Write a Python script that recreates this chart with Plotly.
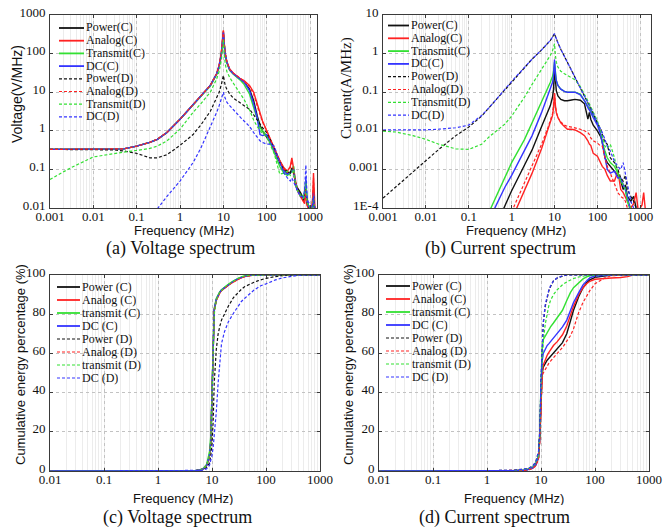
import plotly.graph_objects as go

# ---------------------------------------------------------------------------
# (a) Voltage spectrum, V/MHz
# ---------------------------------------------------------------------------
freq_a = [0.001, 0.003, 0.01, 0.03, 0.05, 0.1, 0.2, 0.3, 0.5, 1,
          2, 3, 5, 7, 8, 9, 9.5, 10, 10.5, 11,
          12, 14, 17, 20, 25, 30, 40, 50, 60, 70,
          80, 100, 120, 150, 200, 250, 300, 350, 380, 420,
          450, 500, 600, 700, 750, 800, 850, 900, 1000, 1100,
          1150, 1200, 1250, 1300]

volt_power_c = [0.33, 0.33, 0.33, 0.335, 0.34, 0.40, 0.50, 0.60, 0.90, 2.0,
                4.8, 7.5, 15, 30, 48, 100, 180, 370, 170, 100,
                60, 38, 30, 26, 21, 18.5, 12, 6, 2.5, 1.4,
                1.0, 0.7, 0.5, 0.32, 0.17, 0.1, 0.08, 0.085, 0.1, 0.09,
                0.05, 0.035, 0.025, 0.018, 0.02, 0.04, 0.015, 0.012, 0.009, 0.008,
                0.015, 0.03, 0.012, 0.008]
volt_analog_c = [0.33, 0.33, 0.33, 0.335, 0.34, 0.40, 0.50, 0.60, 0.90, 2.0,
                 4.8, 7.5, 15, 30, 50, 110, 200, 400, 180, 105,
                 62, 40, 31, 27, 22, 20, 15, 10, 5, 3,
                 1.8, 1.0, 0.6, 0.35, 0.17, 0.11, 0.09, 0.12, 0.2, 0.1,
                 0.06, 0.03, 0.02, 0.015, 0.013, 0.03, 0.012, 0.01, 0.009, 0.01,
                 0.02, 0.08, 0.015, 0.009]
volt_transmit_c = [0.33, 0.33, 0.33, 0.335, 0.34, 0.40, 0.50, 0.60, 0.90, 2.0,
                   4.7, 7.3, 14.5, 29, 46, 95, 170, 300, 160, 95,
                   58, 37, 29, 25, 20, 16, 9, 4, 2.0, 1.2,
                   1.0, 0.75, 0.5, 0.28, 0.12, 0.08, 0.07, 0.08, 0.09, 0.12,
                   0.05, 0.03, 0.022, 0.02, 0.025, 0.05, 0.015, 0.012, 0.01, 0.009,
                   0.012, 0.02, 0.01, 0.008]
volt_dc_c = [0.33, 0.33, 0.33, 0.335, 0.34, 0.40, 0.50, 0.60, 0.90, 2.0,
             4.8, 7.5, 15, 30, 48, 100, 175, 350, 165, 98,
             60, 38, 30, 26, 21, 18.5, 11, 5, 2.2, 0.8,
             0.75, 0.8, 0.55, 0.3, 0.15, 0.09, 0.075, 0.08, 0.09, 0.1,
             0.05, 0.03, 0.02, 0.018, 0.02, 0.06, 0.015, 0.011, 0.008, 0.009,
             0.012, 0.025, 0.01, 0.008]
volt_power_d = [0.33, 0.33, 0.33, 0.32, 0.30, 0.26, 0.20, 0.20, 0.24, 0.42,
                0.8, 1.4, 3.2, 7, 10, 16, 20, 27, 20, 15,
                12, 9, 7, 6.2, 5.3, 4.6, 3.6, 2.6, 2.0, 1.5,
                1.2, 0.9, 0.6, 0.35, 0.15, 0.1, 0.09, 0.08, 0.11, 0.08,
                0.05, 0.03, 0.022, 0.016, 0.018, 0.035, 0.013, 0.011, 0.009, 0.008,
                0.01, 0.02, 0.01, 0.008]
volt_analog_d = [0.33, 0.33, 0.33, 0.335, 0.34, 0.40, 0.50, 0.61, 0.91, 2.0,
                 4.8, 7.6, 15, 30, 50, 108, 195, 390, 175, 102,
                 61, 39, 31, 27, 22, 19.5, 14, 9, 4.5, 2.8,
                 1.7, 1.0, 0.6, 0.33, 0.16, 0.1, 0.085, 0.11, 0.17, 0.09,
                 0.05, 0.03, 0.02, 0.015, 0.014, 0.03, 0.012, 0.01, 0.009, 0.01,
                 0.018, 0.06, 0.012, 0.009]
volt_transmit_d = [0.055, 0.11, 0.21, 0.26, 0.28, 0.31, 0.35, 0.40, 0.55, 1.1,
                   3.0, 5, 10, 22, 35, 70, 120, 230, 100, 55,
                   35, 24, 17, 13, 9, 6.5, 3.5, 1.9, 1.3, 1.0,
                   0.85, 0.7, 0.45, 0.25, 0.075, 0.08, 0.09, 0.07, 0.08, 0.1,
                   0.05, 0.03, 0.02, 0.018, 0.02, 0.05, 0.015, 0.012, 0.01, 0.009,
                   0.012, 0.02, 0.01, 0.008]
volt_dc_d = [None, None, None, None, None, None, None, 0.0095, 0.02, 0.05,
             0.15, 0.35, 1.2, 3, 4.5, 6.5, 8, 10, 8, 6.8,
             5.5, 4.5, 3.5, 2.8, 2.2, 1.8, 1.3, 0.9, 0.7, 0.55,
             0.5, 0.45, 0.45, 0.4, 0.15, 0.08, 0.06, 0.05, 0.06, 0.045,
             0.04, 0.03, 0.02, 0.02, 0.03, 0.13, 0.02, 0.015, 0.012, 0.01,
             0.012, 0.02, 0.01, 0.008]

# ---------------------------------------------------------------------------
# (b) Current spectrum, A/MHz
# ---------------------------------------------------------------------------
freq_b = [0.001, 0.002, 0.005, 0.01, 0.02, 0.05, 0.1, 0.2, 0.3, 0.5,
          0.7, 1, 2, 3, 5, 7, 8, 9, 9.5, 10,
          10.5, 11, 12, 14, 17, 20, 25, 30, 40, 50,
          60, 65, 70, 80, 100, 120, 130, 150, 170, 200,
          250, 300, 350, 400, 450, 500, 600, 700, 800, 900,
          1000, 1100, 1200, 1300]

curr_power_c = [None, None, None, None, None, None, None, None, None, 5e-5,
                1.2e-4, 2.8e-4, 1.3e-3, 3.2e-3, 0.013, 0.03, 0.045, 0.075, 0.12, 0.42,
                0.18, 0.11, 0.08, 0.065, 0.06, 0.06, 0.063, 0.065, 0.062, 0.05,
                0.02, 0.03, 0.02, 0.014, 0.01, 0.007, 0.005, 0.002, 0.0015, 0.0012,
                0.0009, 0.0007, 0.0005, 0.0003, 0.0004, 0.0002, 0.00015, 0.0002, 0.0001, 0.00008,
                0.00006, 0.00005, 0.00005, 0.00005]
curr_analog_c = [None, None, None, None, None, None, None, None, None, None,
                 None, 5e-5, 3e-4, 8e-4, 3.5e-3, 0.011, 0.016, 0.025, 0.04, 0.095,
                 0.045, 0.03, 0.022, 0.016, 0.013, 0.011, 0.011, 0.0105, 0.009, 0.0075,
                 0.0055, 0.0045, 0.0042, 0.0026, 0.0022, 0.0014, 0.0012, 0.001, 0.0007, 0.0005,
                 0.0005, 0.0009, 0.0003, 0.00025, 0.0002, 0.00015, 0.0001, 0.00013, 0.00025, 0.00008,
                 0.0001, 0.00012, 0.00025, 0.0001]
curr_transmit_c = [None, None, None, None, None, None, None, None, 8e-5, 2.8e-4,
                   6e-4, 1.5e-3, 6e-3, 0.016, 0.055, 0.13, 0.18, 0.26, 0.35, 0.6,
                   0.3, 0.2, 0.15, 0.12, 0.105, 0.1, 0.1, 0.1, 0.09, 0.06,
                   0.045, 0.04, 0.033, 0.025, 0.016, 0.008, 0.005, 0.003, 0.002, 0.0015,
                   0.0012, 0.0008, 0.0005, 0.0004, 0.0003, 0.00015, 0.00008, 0.00006, 0.00006, 0.00005,
                   0.00005, 0.00005, 0.00005, 0.00005]
curr_dc_c = [None, None, None, None, None, None, None, None, 5e-5, 1.6e-4,
             3.5e-4, 7e-4, 3e-3, 7.5e-3, 0.03, 0.08, 0.12, 0.18, 0.27, 0.7,
             0.3, 0.2, 0.15, 0.12, 0.105, 0.1, 0.1, 0.1, 0.085, 0.06,
             0.04, 0.035, 0.03, 0.022, 0.014, 0.008, 0.005, 0.002, 0.001, 0.0008,
             0.0009, 0.0006, 0.0006, 0.0004, 0.0003, 0.0002, 0.00008, 0.00006, 0.00006, 0.00005,
             0.00005, 0.00005, 0.00005, 0.00005]
curr_power_d = [1.8e-4, 3.5e-4, 8.5e-4, 1.7e-3, 3.3e-3, 7.5e-3, 0.0125, 0.024, 0.04, 0.075,
                0.12, 0.19, 0.45, 0.72, 1.25, 1.8, 2.2, 2.7, 3.0, 3.3,
                2.8, 2.4, 1.9, 1.3, 0.85, 0.6, 0.38, 0.25, 0.14, 0.085,
                0.055, 0.045, 0.038, 0.028, 0.016, 0.011, 0.008, 0.005, 0.0045, 0.002,
                0.0015, 0.001, 0.0006, 0.0005, 0.0007, 0.0003, 0.0002, 0.00015, 0.0001, 0.00008,
                0.00006, 0.00005, 0.00005, 0.00005]
curr_analog_d = [None, None, None, None, None, None, None, None, None, None,
                 None, 8e-5, 4.5e-4, 1.2e-3, 4.5e-3, 0.012, 0.018, 0.028, 0.045, 0.09,
                 0.045, 0.03, 0.022, 0.017, 0.014, 0.013, 0.0125, 0.012, 0.011, 0.01,
                 0.009, 0.008, 0.0065, 0.0055, 0.0048, 0.004, 0.004, 0.002, 0.0012, 0.0008,
                 0.0004, 0.00025, 0.0002, 0.00018, 0.00015, 0.0001, 0.00008, 0.00007, 0.00006, 0.00005,
                 0.00005, 0.00005, 0.00005, 0.00005]
curr_transmit_d = [0.0098, 0.0093, 0.0075, 0.006, 0.0045, 0.0034, 0.0033, 0.0045, 0.007, 0.011,
                   0.015, 0.024, 0.075, 0.16, 0.4, 0.7, 0.9, 1.2, 1.45, 1.8,
                   0.9, 0.6, 0.45, 0.35, 0.3, 0.27, 0.24, 0.21, 0.14, 0.09,
                   0.06, 0.05, 0.042, 0.03, 0.018, 0.01, 0.007, 0.004, 0.0035, 0.0045,
                   0.002, 0.0008, 0.0005, 0.0004, 0.0003, 0.00015, 0.0001, 0.00008, 0.00006, 0.00005,
                   0.00005, 0.00005, 0.00005, 0.00005]
curr_dc_d = [0.0105, 0.0105, 0.0105, 0.0106, 0.011, 0.012, 0.014, 0.025, 0.04, 0.075,
             0.12, 0.19, 0.45, 0.72, 1.25, 1.8, 2.2, 2.7, 3.0, 3.3,
             2.8, 2.4, 1.9, 1.3, 0.85, 0.6, 0.38, 0.25, 0.14, 0.085,
             0.055, 0.045, 0.038, 0.028, 0.016, 0.011, 0.009, 0.006, 0.004, 0.003,
             0.0016, 0.0012, 0.001, 0.0015, 0.0008, 0.0004, 0.00015, 0.0001, 0.00007, 0.00006,
             0.00005, 0.00005, 0.00005, 0.00005]

# ---------------------------------------------------------------------------
# (c)/(d) Cumulative energy percentage, %
# ---------------------------------------------------------------------------
freq_cum = [0.01, 1, 3, 5, 6, 7, 8, 9, 9.5, 10,
            10.5, 11, 12, 13, 14, 15, 17, 20, 25, 30,
            35, 40, 50, 60, 70, 80, 100, 150, 200, 300,
            400, 500, 700, 1000]

cum_v_power_c = [0, 0, 0.05, 0.2, 0.5, 1.2, 3, 8, 15, 40,
                 70, 82, 87.5, 90, 91.3, 92.3, 93.5, 95, 96.8, 98,
                 98.8, 99.3, 99.8, 100, 100, 100, 100, 100, 100, 100,
                 100, 100, 100, 100]
cum_v_analog_c = [0, 0, 0.05, 0.2, 0.5, 1.2, 3, 8, 15, 40,
                  70, 82, 87, 89.5, 91, 92, 93.3, 94.8, 96.5, 97.8,
                  98.6, 99.2, 99.7, 100, 100, 100, 100, 100, 100, 100,
                  100, 100, 100, 100]
cum_v_transmit_c = [0, 0, 0.05, 0.25, 0.6, 1.5, 3.5, 10, 18, 45,
                    72, 83, 88, 90.3, 91.5, 92.5, 93.8, 95.3, 97, 98.2,
                    99, 99.5, 99.9, 100, 100, 100, 100, 100, 100, 100,
                    100, 100, 100, 100]
cum_v_dc_c = [0, 0, 0.05, 0.2, 0.5, 1.2, 3, 8, 15, 41,
              71, 82.5, 87.5, 90, 91.3, 92.3, 93.5, 95, 96.8, 98,
              98.8, 99.3, 99.8, 100, 100, 100, 100, 100, 100, 100,
              100, 100, 100, 100]
cum_v_power_d = [0, 0, 0.05, 0.2, 0.4, 0.8, 2, 4, 8, 14,
                 25, 45, 62, 70, 74, 77, 80, 84, 88.5, 91,
                 92.7, 94, 95.5, 96.3, 97, 97.5, 98.3, 99.2, 99.7, 100,
                 100, 100, 100, 100]
cum_v_analog_d = [0, 0, 0.05, 0.2, 0.5, 1.2, 3, 8, 15, 40,
                  70, 82, 87, 89.5, 91, 92, 93.3, 94.8, 96.5, 97.8,
                  98.6, 99.2, 99.7, 100, 100, 100, 100, 100, 100, 100,
                  100, 100, 100, 100]
cum_v_transmit_d = [0, 0, 0.05, 0.2, 0.5, 1.2, 3, 8, 14, 35,
                    65, 80, 87, 89.8, 91.2, 92.3, 93.7, 95.2, 97, 98.2,
                    99, 99.5, 99.9, 100, 100, 100, 100, 100, 100, 100,
                    100, 100, 100, 100]
cum_v_dc_d = [0, 0, 0.03, 0.15, 0.3, 0.5, 1.2, 3, 5, 8,
              12, 18, 30, 45, 58, 65, 71, 76, 80.5, 84,
              86.5, 88, 90.5, 92.3, 93.5, 94.5, 95.5, 97.5, 98.5, 99.5,
              99.9, 100, 100, 100]

cum_i_power_c = [0, 0, 0.1, 0.4, 0.8, 1.5, 3, 7, 17, 40,
                 50, 53, 55, 56.5, 57.5, 58.5, 60.5, 62.5, 65.5, 70,
                 76, 82, 89, 93.5, 96, 97.5, 98.8, 99.7, 100, 100,
                 100, 100, 100, 100]
cum_i_analog_c = [0, 0, 0.1, 0.4, 0.8, 1.5, 3, 7, 17, 40,
                  50, 54, 57, 59, 60.5, 62, 64, 66, 69.5, 74,
                  79, 84, 90, 93.5, 95.5, 96.8, 97.8, 98.3, 98.5, 98.7,
                  99.2, 100, 100, 100]
cum_i_transmit_c = [0, 0, 0.1, 0.5, 1, 2, 4, 8, 20, 45,
                    62, 67, 69, 70.5, 72, 73.5, 75.5, 78, 82, 87,
                    91, 93.5, 96, 98, 99, 99.6, 100, 100, 100, 100,
                    100, 100, 100, 100]
cum_i_dc_c = [0, 0, 0.1, 0.4, 0.8, 1.6, 3.2, 7, 18, 42,
              56, 60, 62.5, 64, 65, 66, 68, 70, 73.5, 77,
              82, 86, 91, 95, 97, 98.5, 99.5, 100, 100, 100,
              100, 100, 100, 100]
cum_i_power_d = [0, 0, 0.3, 1, 1.5, 2.5, 4.5, 10, 20, 45,
                 65, 75, 84, 89, 92, 94, 97, 98.5, 99.5, 100,
                 100, 100, 100, 100, 100, 100, 100, 100, 100, 100,
                 100, 100, 100, 100]
cum_i_analog_d = [0, 0, 0.1, 0.3, 0.7, 1.3, 2.8, 6, 15, 38,
                  47, 50, 52, 53.5, 55, 56, 58, 60, 63, 66,
                  69, 72.5, 81, 86, 89.5, 92, 95.5, 98.5, 99.6, 100,
                  100, 100, 100, 100]
cum_i_transmit_d = [0, 0, 0.2, 0.8, 1.3, 2.2, 4, 8, 18, 40,
                    58, 66, 75, 81, 84.5, 87, 90, 92.5, 95, 96.5,
                    97.5, 98.2, 99, 99.5, 99.8, 100, 100, 100, 100, 100,
                    100, 100, 100, 100]
cum_i_dc_d = [0, 0, 0.3, 1, 1.5, 2.5, 4.5, 10, 21, 46,
              66, 76, 85, 89.5, 92.5, 94.5, 97, 98.6, 99.6, 100,
              100, 100, 100, 100, 100, 100, 100, 100, 100, 100,
              100, 100, 100, 100]

# ---------------------------------------------------------------------------
# Styling
# ---------------------------------------------------------------------------
W, H = 672, 527
BLACK, RED, GREEN, BLUE = "#111111", "#ff2222", "#33e033", "#3434ff"
SERIES_COLORS = [BLACK, RED, GREEN, BLUE, BLACK, RED, GREEN, BLUE]
SERIES_DASHED = [False, False, False, False, True, True, True, True]
DASH = "3px,2px"

SERIF = "Liberation Serif, Times New Roman, serif"
SANS = "Liberation Sans, Arial, sans-serif"
AX_LINE = "#3a3a3a"
MAJOR_GRID = "#c2c2c2"
MINOR_GRID = "#ececec"
TICK_FONT = dict(family=SERIF, size=13, color="#111111")


def px(x):
    return x / W


def py(y):
    return 1 - y / H


def axis_common():
    return dict(showline=True, mirror="ticks", linecolor=AX_LINE, linewidth=1,
                ticks="inside", ticklen=3, tickcolor=AX_LINE, automargin=False,
                showgrid=True, gridcolor=MAJOR_GRID, griddash="dot", gridwidth=1,
                zeroline=False, tickfont=TICK_FONT, fixedrange=True)


def log_x_axis(domain, rng, vals, text, anchor):
    ax = axis_common()
    ax.update(type="log", domain=domain, range=rng, anchor=anchor,
              tickmode="array", tickvals=vals, ticktext=text,
              ticklabelstandoff=-4,
              minor=dict(dtick="D1", showgrid=True, gridcolor=MINOR_GRID,
                         griddash="solid", gridwidth=1, ticks=""))
    return ax


def log_y_axis(domain, rng, vals, text, anchor):
    ax = axis_common()
    ax.update(type="log", domain=domain, range=rng, anchor=anchor,
              tickmode="array", tickvals=vals, ticktext=text,
              ticklabelshift=-3, ticklabelstandoff=1)
    return ax


def lin_axis(domain, rng, dtick, anchor):
    ax = axis_common()
    ax.update(type="linear", domain=domain, range=rng, anchor=anchor,
              tickmode="linear", tick0=0, dtick=dtick,
              ticklabelshift=-3, ticklabelstandoff=1)
    return ax


fig = go.Figure()


def add_group(xs, ys_list, xa, ya):
    for ys, color, dashed in zip(ys_list, SERIES_COLORS, SERIES_DASHED):
        fig.add_trace(go.Scatter(
            x=xs, y=ys, mode="lines", xaxis=xa, yaxis=ya, showlegend=False,
            connectgaps=False, hoverinfo="skip",
            line=dict(color=color, width=1.2 if dashed else 1.4,
                      dash=DASH if dashed else "solid")))


add_group(freq_a, [volt_power_c, volt_analog_c, volt_transmit_c, volt_dc_c,
                   volt_power_d, volt_analog_d, volt_transmit_d, volt_dc_d], "x", "y")
add_group(freq_b, [curr_power_c, curr_analog_c, curr_transmit_c, curr_dc_c,
                   curr_power_d, curr_analog_d, curr_transmit_d, curr_dc_d], "x2", "y2")
add_group(freq_cum, [cum_v_power_c, cum_v_analog_c, cum_v_transmit_c, cum_v_dc_c,
                     cum_v_power_d, cum_v_analog_d, cum_v_transmit_d, cum_v_dc_d], "x3", "y3")
add_group(freq_cum, [cum_i_power_c, cum_i_analog_c, cum_i_transmit_c, cum_i_dc_c,
                     cum_i_power_d, cum_i_analog_d, cum_i_transmit_d, cum_i_dc_d], "x4", "y4")

# axis tick labels
fx_a_vals = [0.001, 0.01, 0.1, 1, 10, 100, 1000]
fx_a_text = ["0.001", "0.01", "0.1", "1", "10", "100", "1000"]
fy_a_vals = [0.01, 0.1, 1, 10, 100, 1000]
fy_a_text = ["0.01", "0.1", "1", "10", "100", "1000"]
fy_b_vals = [1e-4, 0.001, 0.01, 0.1, 1, 10]
fy_b_text = ["1E-4", "0.001", "0.01", "0.1", "1", "10"]
fx_c_vals = [0.01, 0.1, 1, 10, 100, 1000]
fx_c_text = ["0.01", "0.1", "1", "10", "100", "1000"]

# panel frames in pixels: (left, right, top, bottom)
frame_a = (50, 317, 15, 208)
frame_b = (383, 651, 15, 208)
frame_c = (50, 320, 275, 471)
frame_d = (379, 649, 275, 471)


def dom_x(f):
    return [px(f[0]), px(f[1])]


def dom_y(f):
    return [py(f[3]), py(f[2])]


fig.update_layout(
    template="none",
    width=W, height=H, margin=dict(l=0, r=0, t=0, b=0, pad=0, autoexpand=False),
    paper_bgcolor="white", plot_bgcolor="white", showlegend=False,
    xaxis=log_x_axis(dom_x(frame_a), [-3, 3.16], fx_a_vals, fx_a_text, "y"),
    yaxis=log_y_axis(dom_y(frame_a), [-2, 3], fy_a_vals, fy_a_text, "x"),
    xaxis2=log_x_axis(dom_x(frame_b), [-3, 3.25], fx_a_vals, fx_a_text, "y2"),
    yaxis2=log_y_axis(dom_y(frame_b), [-4, 1], fy_b_vals, fy_b_text, "x2"),
    xaxis3=log_x_axis(dom_x(frame_c), [-2, 3], fx_c_vals, fx_c_text, "y3"),
    yaxis3=lin_axis(dom_y(frame_c), [0, 100], 20, "x3"),
    xaxis4=log_x_axis(dom_x(frame_d), [-2, 3], fx_c_vals, fx_c_text, "y4"),
    yaxis4=lin_axis(dom_y(frame_d), [0, 100], 20, "x4"),
)

annotations = []
shapes = []


def text_at(x, y, s, font, angle=0, xanchor="center", height=None):
    ann = dict(x=px(x), y=py(y), xref="paper", yref="paper",
               text=s, showarrow=False, font=font, textangle=angle,
               xanchor=xanchor, yanchor="middle", borderpad=0)
    if height is not None:
        ann["height"] = height
    annotations.append(ann)


# axis titles and captions
title_sans = dict(family=SANS, size=13, color="#111111")
title_serif = dict(family=SERIF, size=15, color="#111111")
caption_font = dict(family=SERIF, size=18, color="#111111")

text_at(184, 230, "Frequency (MHz)", title_sans, height=14)
text_at(516, 230, "Frequency (MHz)", title_sans, height=14)
text_at(183, 498, "Frequency (MHz)", title_sans, height=14)
text_at(514, 498, "Frequency (MHz)", title_sans, height=14)
text_at(17, 94, "Voltage(V/MHz)", dict(family=SANS, size=14, color="#111111"), angle=-90)
text_at(346, 88, "Current(A/MHz)", title_serif, angle=-90)
text_at(20, 365, "Cumulative energy percentage (%)", title_sans, angle=-90)
text_at(348, 365, "Cumulative energy percentage (%)", title_sans, angle=-90)
text_at(180, 249, "(a) Voltage spectrum", caption_font)
text_at(500, 249, "(b) Current spectrum", caption_font)
text_at(177, 517, "(c) Voltage spectrum", caption_font)
text_at(494, 517, "(d) Current spectrum", caption_font)

# in-plot legends
labels_ab = ["Power(C)", "Analog(C)", "Transmit(C)", "DC(C)",
             "Power(D)", "Analog(D)", "Transmit(D)", "DC(D)"]
labels_cd = ["Power (C)", "Analog (C)", "transmit (C)", "DC (C)",
             "Power (D)", "Analog (D)", "transmit (D)", "DC (D)"]
legend_font = dict(family=SERIF, size=12, color="#111111")


def legend(x0, x1, xt, y0, step, labels):
    for i, (lab, color, dashed) in enumerate(zip(labels, SERIES_COLORS, SERIES_DASHED)):
        y = y0 + i * step
        shapes.append(dict(type="line", xref="paper", yref="paper",
                           x0=px(x0), x1=px(x1), y0=py(y), y1=py(y),
                           line=dict(color=color, width=1.2 if dashed else 1.8,
                                     dash=DASH if dashed else "solid")))
        text_at(xt, y, lab, legend_font, xanchor="left", height=12.5)


legend(59, 84, 85, 28, 12.7, labels_ab)
legend(388, 409, 410, 25.5, 12.8, labels_ab)
legend(57, 80, 81, 287, 13, labels_cd)
legend(386, 410, 411, 286, 13, labels_cd)

fig.update_layout(annotations=annotations, shapes=shapes)
fig.write_html("out.html")
